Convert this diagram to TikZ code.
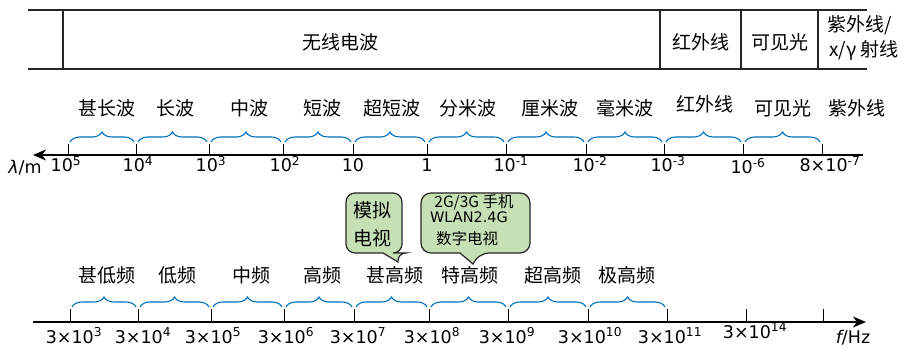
\documentclass[tikz,border=0pt]{standalone}
\usepackage{fontspec}
\setmainfont{Noto Sans CJK SC}
\newfontfamily\numfont{DejaVu Sans}
\usetikzlibrary{decorations.pathreplacing,arrows.meta}
\definecolor{bblue}{RGB}{0,112,192}
\definecolor{cgreen}{RGB}{197,224,180}
\begin{document}
\begin{tikzpicture}[x=1pt,y=-1pt,
  font=\fontsize{19}{21}\selectfont,
  tbl/.style={line width=1.5pt, draw=black!85},
  axisline/.style={line width=2.2pt, -{Stealth[length=13pt,width=11pt,inset=4pt]}},
  tick/.style={line width=1pt},
  brc/.style={draw=bblue, line width=1.1pt, decorate, decoration={brace, amplitude=10pt}},
  lbl/.style={inner sep=0pt, anchor=center},
  num/.style={inner sep=0pt, anchor=base, font=\numfont\fontsize{17.5}{19}\selectfont},
  cbox/.style={draw=black!85, fill=cgreen, line width=1.2pt}]
\useasboundingbox (0,0) rectangle (903,350);

% ---------- table ----------
\coordinate (tTL) at (28,10); \coordinate (tTR) at (867,10);
\coordinate (tBL) at (28,69); \coordinate (tBR) at (867,69);
\draw[tbl] (tTL) -- (tTR);
\draw[tbl] (tBL) -- (tBR);
\foreach \x [count=\i] in {63,660,741,818}{
  \coordinate (vt\i) at (\x,10); \coordinate (vb\i) at (\x,69);
  \draw[tbl] (vt\i) -- (vb\i);
}
\node[lbl] (h1) at (340,42) {无线电波};
\node[lbl] (h2) at (701,42) {红外线};
\node[lbl] (h3) at (780,42) {可见光};
\node[lbl] (h4) at (860,25) {紫外线/};
\node[lbl] (h5) at (864,50) {x/γ 射线};

% ---------- upper axis (wavelength) ----------
\coordinate (uaR) at (863,155); \coordinate (uaL) at (33,155);
\draw[axisline] (uaR) -- (uaL);
\foreach \x [count=\i] in {68,136,209,283,353,427,506,586,664,743,822}{
  \coordinate (ut\i) at (\x,155); \coordinate (utt\i) at (\x,144);
  \draw[tick] (ut\i) -- (utt\i);
}
\foreach \xa/\xb in {68/136,136/209,209/283,283/353,353/427,427/506,506/586,586/664,664/743,743/822}
  \draw[brc] (\xa+2,142) -- (\xb-2,142);

\foreach \t/\x/\y [count=\i] in {甚长波/107/108, 长波/175/108, 中波/249/108, 短波/322/108, 超短波/392/108,
  分米波/468/108, 厘米波/550/108, 毫米波/625/108, 红外线/705/104, 可见光/783/108, 紫外线/857/108}
  \node[lbl] (ul\i) at (\x,\y) {\t};

\node[num] (un1) at (66,172) {10\textsuperscript{5}};
\node[num] (un2) at (138,172) {10\textsuperscript{4}};
\node[num] (un3) at (211,172) {10\textsuperscript{3}};
\node[num] (un4) at (285,172) {10\textsuperscript{2}};
\node[num] (un5) at (353,172) {10};
\node[num] (un6) at (427,172) {1};
\node[num] (un7) at (511,172) {10\textsuperscript{-1}};
\node[num] (un8) at (590,172) {10\textsuperscript{-2}};
\node[num] (un9) at (668,172) {10\textsuperscript{-3}};
\node[num] (un10) at (748,174) {10\textsuperscript{-6}};
\node[num] (un11) at (830,172) {8×10\textsuperscript{-7}};
\node[num] (lam) at (25,174) {{\itshape λ}/m};

% ---------- lower axis (frequency) ----------
\coordinate (laL) at (33,322); \coordinate (laR) at (866,322);
\draw[axisline] (laL) -- (laR);
\foreach \x [count=\i] in {70,138,211,284,354,429,508,588,667,746,823}{
  \coordinate (lt\i) at (\x,322); \coordinate (ltt\i) at (\x,309);
  \draw[tick] (lt\i) -- (ltt\i);
}
\foreach \xa/\xb in {70/138,138/211,211/284,284/354,354/429,429/508,508/588,588/667}
  \draw[brc] (\xa+2,307) -- (\xb-2,307);

\foreach \t/\x [count=\i] in {甚低频/107, 低频/177, 中频/251, 高频/322, 甚高频/395,
  特高频/470, 超高频/553, 极高频/627}
  \node[lbl] (ll\i) at (\x,275) {\t};

\node[num] (ln1) at (74,343) {3×10\textsuperscript{3}};
\node[num] (ln2) at (143,343) {3×10\textsuperscript{4}};
\node[num] (ln3) at (213,343) {3×10\textsuperscript{5}};
\node[num] (ln4) at (286,343) {3×10\textsuperscript{6}};
\node[num] (ln5) at (358,343) {3×10\textsuperscript{7}};
\node[num] (ln6) at (432,343) {3×10\textsuperscript{8}};
\node[num] (ln7) at (507,343) {3×10\textsuperscript{9}};
\node[num] (ln8) at (590,343) {3×10\textsuperscript{10}};
\node[num] (ln9) at (670,343) {3×10\textsuperscript{11}};
\node[num] (ln10) at (755,338) {3×10\textsuperscript{14}};
\node[num] (fhz) at (853,343) {{\itshape f}/Hz};

% ---------- callouts ----------
\draw[cbox] (402,223) [rounded corners=9pt] -- (402,253) -- (397,253) [sharp corners] -- (398,262) -- (383,253) [rounded corners=9pt] -- (346,253) -- (346,193) -- (402,193) -- cycle;
\node[lbl] (c1a) at (372,210) {模拟};
\node[lbl] (c1b) at (372,238) {电视};

\draw[cbox] (530,223) [rounded corners=10pt] -- (530,253) -- (479,253) [sharp corners] -- (473,264) -- (460,253) [rounded corners=10pt] -- (421,253) -- (421,193) -- (530,193) -- cycle;
\node[lbl, font=\fontsize{15.5}{16}\selectfont] (c2a) at (474,202) {2G/3G 手机};
\node[lbl, font=\numfont\fontsize{14.5}{15}\selectfont] (c2b) at (469,217) {WLAN2.4G};
\node[lbl, font=\fontsize{15.5}{16}\selectfont] (c2c) at (467,239) {数字电视};
\end{tikzpicture}
\end{document}
